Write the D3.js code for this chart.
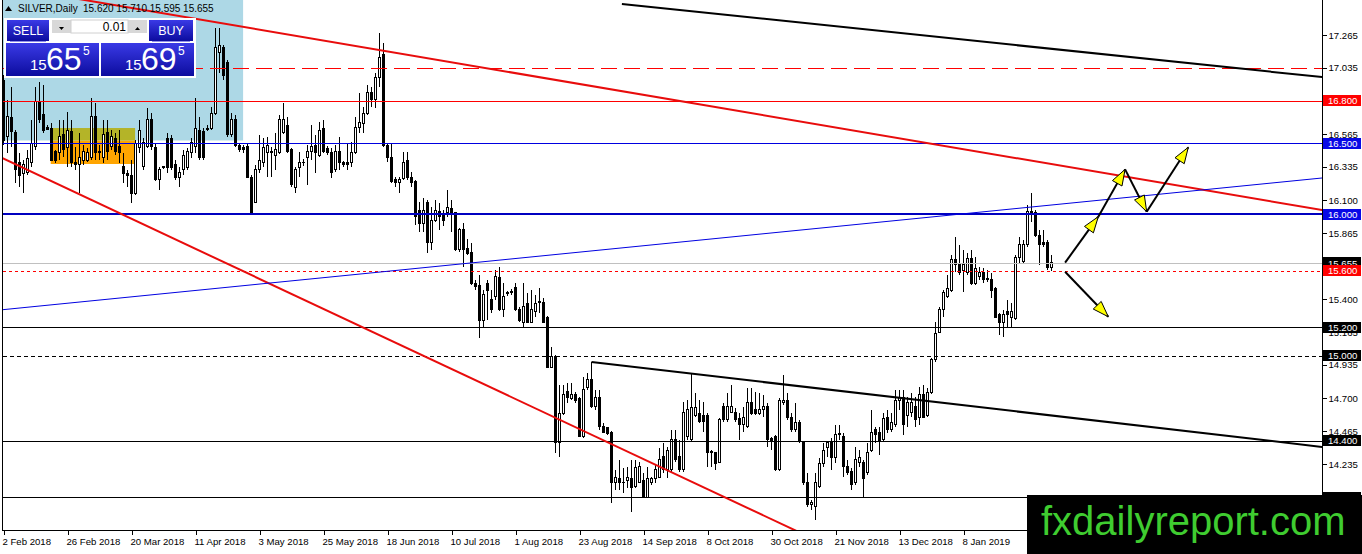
<!DOCTYPE html>
<html>
<head>
<meta charset="utf-8">
<script src="https://cdn.jsdelivr.net/npm/d3@7"></script>
<style>
body { margin: 0; background: #fff; overflow: hidden; }
svg { display: block; font-family: "Liberation Sans", Arial, sans-serif; }
</style>
</head>
<body>
<svg id="chart" width="1362" height="554"></svg>
<script>
// SILVER daily candles, [open, high, low, close], 2 Feb 2018 .. 8 Feb 2019
const ohlc = [
  [16.947,16.982,16.488,16.523],[16.545,16.806,16.432,16.686],[16.679,16.898,16.474,16.580],[16.573,16.594,16.220,16.312],
  [16.361,16.432,16.191,16.276],[16.290,16.382,16.149,16.347],[16.297,16.453,16.276,16.396],[16.361,16.665,16.333,16.502],
  [16.474,16.898,16.453,16.792],[16.792,16.933,16.643,16.665],[16.700,16.912,16.573,16.594],[16.615,16.629,16.594,16.601],
  [16.608,16.643,16.375,16.382],[16.439,16.453,16.361,16.382],[16.432,16.665,16.382,16.545],[16.559,16.665,16.403,16.453],
  [16.467,16.721,16.333,16.594],[16.580,16.665,16.333,16.361],[16.361,16.474,16.312,16.347],[16.347,16.573,16.149,16.403],
  [16.382,16.488,16.347,16.439],[16.382,16.467,16.368,16.432],[16.403,16.820,16.382,16.686],[16.686,16.785,16.382,16.432],
  [16.439,16.488,16.382,16.432],[16.403,16.665,16.361,16.559],[16.573,16.665,16.382,16.439],[16.474,16.594,16.453,16.545],
  [16.537,16.573,16.417,16.439],[16.474,16.594,16.361,16.432],[16.333,16.432,16.220,16.290],[16.290,16.312,16.191,16.276],
  [16.276,16.382,16.078,16.149],[16.149,16.523,16.135,16.502],[16.467,16.665,16.432,16.594],[16.333,16.537,16.312,16.509],
  [16.474,16.749,16.467,16.665],[16.665,16.714,16.453,16.474],[16.467,16.502,16.235,16.241],[16.241,16.333,16.170,16.312],
  [16.326,16.340,16.320,16.333],[16.537,16.573,16.290,16.326],[16.537,16.559,16.312,16.326],[16.347,16.382,16.241,16.262],
  [16.262,16.333,16.191,16.297],[16.312,16.453,16.276,16.417],[16.326,16.467,16.312,16.439],[16.432,16.537,16.396,16.509],
  [16.474,16.820,16.432,16.608],[16.594,16.686,16.382,16.403],[16.580,16.608,16.382,16.403],[16.601,16.629,16.587,16.608],
  [16.608,16.756,16.594,16.714],[16.714,17.314,16.700,17.180],[17.138,17.314,16.997,17.194],[17.180,17.194,16.947,16.982],
  [17.074,17.088,16.545,16.559],[16.559,16.714,16.545,16.665],[16.665,16.700,16.474,16.488],[16.488,16.502,16.439,16.453],
  [16.467,16.488,16.432,16.453],[16.474,16.502,16.255,16.262],[16.262,16.276,16.005,16.008],[16.085,16.347,16.078,16.312],
  [16.312,16.559,16.290,16.382],[16.368,16.537,16.333,16.467],[16.432,16.545,16.262,16.488],[16.439,16.474,16.262,16.432],
  [16.417,16.573,16.312,16.453],[16.432,16.700,16.425,16.665],[16.573,16.785,16.566,16.665],[16.629,16.686,16.432,16.439],
  [16.453,16.467,16.191,16.206],[16.191,16.333,16.149,16.312],[16.326,16.439,16.262,16.368],[16.361,16.390,16.340,16.368],
  [16.403,16.488,16.206,16.439],[16.439,16.629,16.382,16.474],[16.488,16.559,16.290,16.432],[16.417,16.650,16.403,16.594],
  [16.608,16.665,16.432,16.439],[16.460,16.480,16.420,16.432],[16.432,16.467,16.255,16.297],[16.312,16.488,16.297,16.439],
  [16.439,16.545,16.312,16.361],[16.361,16.375,16.333,16.347],[16.361,16.502,16.312,16.347],[16.361,16.509,16.333,16.432],
  [16.432,16.686,16.425,16.615],[16.615,16.855,16.573,16.650],[16.643,16.756,16.573,16.714],[16.714,16.912,16.700,16.862],
  [16.862,16.898,16.756,16.806],[16.806,16.997,16.749,16.968],[16.968,17.279,16.898,17.109],[17.124,17.208,16.474,16.488],
  [16.488,16.502,16.368,16.403],[16.403,16.502,16.220,16.227],[16.241,16.262,16.191,16.220],[16.220,16.262,16.149,16.241],
  [16.255,16.439,16.241,16.368],[16.382,16.439,16.241,16.262],[16.262,16.297,16.191,16.220],[16.227,16.240,15.923,15.980],
  [16.029,16.085,15.874,15.937],[15.937,16.114,15.874,16.029],[16.085,16.100,15.725,15.796],[15.796,16.050,15.747,15.958],
  [15.958,16.100,15.944,16.029],[16.015,16.078,15.888,15.980],[15.994,16.029,15.916,15.958],[16.008,16.170,15.980,16.050],
  [16.043,16.100,15.874,15.994],[16.008,16.015,15.740,15.747],[15.747,15.902,15.732,15.888],[15.888,15.937,15.626,15.747],
  [15.754,15.824,15.711,15.725],[15.732,15.796,15.499,15.513],[15.513,15.535,15.464,15.492],[15.499,15.570,15.125,15.252],
  [15.252,15.464,15.203,15.429],[15.513,15.535,15.252,15.464],[15.394,15.464,15.302,15.323],[15.415,15.605,15.394,15.556],
  [15.549,15.626,15.316,15.323],[15.323,15.513,15.273,15.415],[15.436,15.460,15.420,15.443],[15.443,15.470,15.430,15.450],
  [15.485,15.513,15.316,15.323],[15.323,15.344,15.238,15.252],[15.238,15.513,15.196,15.344],[15.372,15.443,15.231,15.238],
  [15.238,15.464,15.231,15.323],[15.309,15.429,15.273,15.372],[15.379,15.478,15.302,15.386],[15.379,15.408,15.231,15.238],
  [15.273,15.280,14.913,14.920],[14.920,15.062,14.913,14.991],[14.991,15.005,14.313,14.384],[14.384,14.793,14.285,14.595],
  [14.595,14.793,14.581,14.723],[14.744,14.808,14.666,14.708],[14.701,14.808,14.687,14.723],[14.723,14.744,14.666,14.687],
  [14.701,14.708,14.426,14.426],[14.426,14.850,14.419,14.758],[14.772,14.878,14.758,14.829],[14.829,14.955,14.631,14.638],
  [14.638,14.758,14.617,14.708],[14.708,14.758,14.476,14.497],[14.497,14.525,14.454,14.461],[14.490,14.497,14.440,14.454],
  [14.461,14.470,13.960,14.101],[14.101,14.193,14.052,14.143],[14.136,14.264,14.052,14.101],[14.108,14.207,14.030,14.101],
  [14.122,14.214,14.066,14.143],[14.136,14.264,13.896,14.066],[14.073,14.264,14.066,14.207],[14.108,14.249,14.101,14.221],
  [14.122,14.172,13.995,14.002],[14.002,14.214,13.995,14.136],[14.101,14.143,14.087,14.136],[14.136,14.228,14.101,14.193],
  [14.143,14.348,14.136,14.264],[14.285,14.384,14.172,14.193],[14.193,14.355,14.136,14.334],[14.193,14.476,14.179,14.405],
  [14.405,14.476,14.249,14.264],[14.285,14.405,14.179,14.193],[14.193,14.673,14.179,14.602],[14.426,14.687,14.405,14.617],
  [14.405,14.878,14.398,14.631],[14.581,14.737,14.567,14.631],[14.595,14.687,14.525,14.532],[14.581,14.673,14.461,14.532],
  [14.581,14.595,14.214,14.313],[14.320,14.334,14.214,14.313],[14.313,14.320,14.193,14.242],[14.249,14.560,14.242,14.546],
  [14.638,14.666,14.532,14.546],[14.546,14.737,14.532,14.638],[14.602,14.793,14.595,14.638],[14.602,14.631,14.532,14.546],
  [14.553,14.595,14.405,14.511],[14.511,14.638,14.461,14.567],[14.497,14.772,14.490,14.673],[14.673,14.772,14.581,14.595],
  [14.617,14.744,14.581,14.595],[14.595,14.737,14.581,14.617],[14.617,14.723,14.567,14.638],[14.638,14.666,14.355,14.405],
  [14.412,14.426,14.334,14.391],[14.426,14.440,14.186,14.193],[14.193,14.701,14.186,14.687],[14.673,14.864,14.652,14.687],
  [14.687,14.737,14.546,14.567],[14.567,14.595,14.462,14.476],[14.476,14.666,14.462,14.525],[14.525,14.546,14.384,14.391],
  [14.391,14.398,14.087,14.101],[14.101,14.172,13.932,13.946],[13.946,13.981,13.910,13.960],[13.932,14.172,13.840,14.101],
  [14.073,14.278,14.066,14.242],[14.242,14.384,14.214,14.334],[14.355,14.391,14.285,14.384],[14.384,14.419,14.193,14.278],
  [14.278,14.511,14.242,14.440],[14.440,14.511,14.405,14.454],[14.426,14.454,14.143,14.214],[14.214,14.264,14.157,14.172],
  [14.179,14.207,14.052,14.087],[14.101,14.355,14.087,14.264],[14.249,14.334,14.214,14.278],[14.249,14.264,14.002,14.136],
  [14.172,14.384,14.157,14.313],[14.334,14.617,14.320,14.461],[14.476,14.497,14.384,14.440],[14.461,14.497,14.299,14.391],
  [14.405,14.595,14.391,14.560],[14.567,14.617,14.454,14.476],[14.476,14.595,14.461,14.525],[14.511,14.758,14.497,14.687],
  [14.687,14.758,14.617,14.708],[14.708,14.758,14.440,14.511],[14.581,14.708,14.497,14.666],[14.602,14.737,14.567,14.673],
  [14.638,14.708,14.497,14.546],[14.567,14.779,14.511,14.723],[14.723,14.793,14.560,14.567],[14.581,14.772,14.567,14.737],
  [14.737,14.984,14.730,14.970],[14.970,15.238,14.955,15.160],[15.167,15.344,15.160,15.323],[15.323,15.464,15.273,15.443],
  [15.415,15.570,15.408,15.478],[15.464,15.711,15.450,15.676],[15.676,15.838,15.591,15.641],[15.641,15.782,15.570,15.591],
  [15.605,15.747,15.450,15.641],[15.591,15.725,15.570,15.683],[15.690,15.747,15.499,15.513],[15.513,15.697,15.499,15.619],
  [15.556,15.626,15.535,15.591],[15.591,15.619,15.513,15.535],[15.542,15.605,15.520,15.535],[15.535,15.584,15.408,15.464],
  [15.478,15.485,15.266,15.273],[15.288,15.302,15.146,15.231],[15.231,15.323,15.132,15.288],[15.309,15.394,15.196,15.288],
  [15.273,15.372,15.203,15.309],[15.266,15.711,15.252,15.697],[15.697,15.838,15.655,15.782],[15.662,15.817,15.655,15.782],
  [15.782,16.064,15.768,16.015],[16.008,16.149,15.944,16.015],[16.008,16.029,15.838,15.852],[15.852,15.888,15.641,15.782],
  [15.803,15.888,15.768,15.782],[15.796,15.817,15.605,15.620],[15.620,15.710,15.595,15.655]
];

const dateTickBars = [0, 16, 32, 48, 64, 80, 96, 112, 128, 144, 160, 176, 192, 208, 224, 240];
const dateTickLabels = ['2 Feb 2018', '26 Feb 2018', '20 Mar 2018', '11 Apr 2018', '3 May 2018', '25 May 2018',
  '18 Jun 2018', '10 Jul 2018', '1 Aug 2018', '23 Aug 2018', '14 Sep 2018', '8 Oct 2018', '30 Oct 2018',
  '21 Nov 2018', '13 Dec 2018', '8 Jan 2019'];
// price grid ticks; the ones hidden behind level tags in the picture are left out
const priceTicks = [17.265, 17.035, 16.565, 16.335, 16.100, 15.865, 15.400, 15.165,
  14.935, 14.700, 14.465, 14.235];

// horizontal levels and their look
const levels = [17.035, 16.800, 16.500, 16.000, 15.655, 15.600, 15.200, 15.000, 14.400, 14.000];
const levelStyles = [
  { color: '#ff0000', width: 1, dash: '16,7', tag: null },
  { color: '#ff0000', width: 1, dash: null, tag: '#ff0000' },
  { color: '#0000e0', width: 1, dash: null, tag: '#0808e6' },
  { color: '#0000c0', width: 2, dash: null, tag: '#0808e6' },
  { color: '#c0c0c0', width: 1, dash: null, tag: '#000000' },
  { color: '#ff0000', width: 1, dash: '3,3', tag: '#ff0000' },
  { color: '#000000', width: 1, dash: null, tag: '#000000' },
  { color: '#000000', width: 1, dash: '4,3', tag: '#000000' },
  { color: '#000000', width: 1, dash: null, tag: '#000000' },
  { color: '#000000', width: 1, dash: null, tag: '#000000' }
];

// trend lines: two anchors each, [bar, price]
const trendAnchors = [
  [[61.6, 17.314], [329.6, 16.029]],
  [[-0.875, 16.403], [192.4, 13.840]],
  [[-0.875, 15.323], [329.6, 16.255]],
  [[154.6, 17.484], [329.6, 16.968]],
  [[147, 14.955], [329.6, 14.356]]
];
const trendStyles = [
  { color: '#e80c0c', width: 2, ray: false },
  { color: '#e80c0c', width: 2, ray: false },
  { color: '#0000e0', width: 1, ray: false },
  { color: '#000000', width: 2, ray: true },
  { color: '#000000', width: 2, ray: true }
];

// projected paths drawn as arrows
const arrowUpPath = [[265.4, 15.657], [273.7, 15.982], [280.4, 16.316], [285.8, 16.017], [296.2, 16.472]];
const arrowDownPath = [[265.4, 15.593], [276.2, 15.275]];

// shaded zones: [fromBar, toBar], [lowPrice, highPrice]
const zoneBars = [[-3, 59.9], [11.8, 32.9], [11.8, 32.9]];
const zonePrices = [[16.52, 17.7], [16.354, 16.52], [16.52, 16.608]];
const zoneColors = ['#add8e6', '#ffa500', '#b4b428'];

const W = 1362, H = 554;
const plot = { left: 3, right: 1322, top: 0, bottom: 530 };

const svg = d3.select('#chart');
svg.append('rect').attr('width', W).attr('height', H).attr('fill', '#fff');

const defs = svg.append('defs');
defs.append('clipPath').attr('id', 'plotClip')
  .append('rect')
  .attr('x', plot.left).attr('y', plot.top)
  .attr('width', plot.right - plot.left).attr('height', plot.bottom - plot.top);
const grad = defs.append('linearGradient').attr('id', 'btnBlue')
  .attr('x1', 0).attr('y1', 0).attr('x2', 0).attr('y2', 1);
grad.append('stop').attr('offset', '0%').attr('stop-color', '#3a3ae6');
grad.append('stop').attr('offset', '100%').attr('stop-color', '#0c0c9e');

const x = d3.scaleLinear().domain([0, 262]).range([3.5, 1051.5]);
const y = d3.scaleLinear().domain([14.0, 17.265]).range([497.3, 35]);
const crisp = v => Math.round(v) + 0.5;

const chart = svg.append('g').attr('clip-path', 'url(#plotClip)');

// background zones
chart.append('g').selectAll('rect')
  .data(zoneBars)
  .join('rect')
  .attr('x', d => x(d[0]))
  .attr('width', d => x(d[1]) - x(d[0]))
  .attr('y', (d, i) => y(zonePrices[i][1]))
  .attr('height', (d, i) => y(zonePrices[i][0]) - y(zonePrices[i][1]))
  .attr('fill', (d, i) => zoneColors[i]);

// candles
const candles = chart.append('g').attr('shape-rendering', 'crispEdges');
candles.selectAll('line')
  .data(ohlc)
  .join('line')
  .attr('x1', (d, i) => x(i)).attr('x2', (d, i) => x(i))
  .attr('y1', d => y(d[1])).attr('y2', d => y(d[2]))
  .attr('stroke', '#000').attr('stroke-width', 1);
candles.selectAll('rect')
  .data(ohlc)
  .join('rect')
  .attr('x', (d, i) => x(i) - 1)
  .attr('width', 2)
  .attr('y', d => y(Math.max(d[0], d[3])))
  .attr('height', d => Math.max(0.5, Math.abs(y(d[0]) - y(d[3]))))
  .attr('fill', d => d[3] >= d[0] ? '#fff' : '#000')
  .attr('stroke', '#000').attr('stroke-width', 1);

// horizontal levels
const levelY = (d, i) => levelStyles[i].width === 2 ? Math.round(y(d)) : crisp(y(d));
chart.append('g')
  .selectAll('line')
  .data(levels)
  .join('line')
  .attr('shape-rendering', 'crispEdges')
  .attr('x1', plot.left).attr('x2', plot.right)
  .attr('y1', levelY)
  .attr('y2', levelY)
  .style('stroke', (d, i) => levelStyles[i].color)
  .style('stroke-width', (d, i) => levelStyles[i].width)
  .style('stroke-dasharray', (d, i) => levelStyles[i].dash || 'none');

// trend lines
function extend(a, b, b0, b1) {
  const s = (b[1] - a[1]) / (b[0] - a[0]);
  return [[b0, a[1] + s * (b0 - a[0])], [b1, a[1] + s * (b1 - a[0])]];
}
const line = d3.line().x(d => x(d[0])).y(d => y(d[1]));
chart.append('g').selectAll('path')
  .data(trendAnchors)
  .join('path')
  .attr('d', (d, i) => line(extend(d[0], d[1], trendStyles[i].ray ? d[0][0] : -5, 340)))
  .attr('fill', 'none')
  .attr('stroke', (d, i) => trendStyles[i].color)
  .attr('stroke-width', (d, i) => trendStyles[i].width);

// arrows
function drawArrows(pts) {
  const g = chart.append('g');
  for (let k = 1; k < pts.length; k++) {
    const x0 = x(pts[k - 1][0]), y0 = y(pts[k - 1][1]);
    const x1 = x(pts[k][0]), y1 = y(pts[k][1]);
    g.append('line')
      .attr('x1', x0).attr('y1', y0).attr('x2', x1).attr('y2', y1)
      .attr('stroke', '#000').attr('stroke-width', 2);
    const ang = Math.atan2(y1 - y0, x1 - x0);
    const len = 16, half = 5.5;
    const bx = x1 - len * Math.cos(ang), by = y1 - len * Math.sin(ang);
    const px = -Math.sin(ang) * half, py = Math.cos(ang) * half;
    g.append('path')
      .attr('d', `M${x1},${y1}L${bx + px},${by + py}L${bx - px},${by - py}Z`)
      .attr('fill', '#ffff00')
      .attr('stroke', '#000').attr('stroke-width', 1);
  }
}
drawArrows(arrowUpPath);
drawArrows(arrowDownPath);

// frame
const frame = svg.append('g').attr('shape-rendering', 'crispEdges').attr('stroke', '#000');
frame.append('line').attr('x1', 2.5).attr('x2', 2.5).attr('y1', 0).attr('y2', plot.bottom + 0.5);
frame.append('line').attr('x1', 2).attr('x2', plot.right + 1).attr('y1', plot.bottom + 0.5).attr('y2', plot.bottom + 0.5);
frame.append('line').attr('x1', plot.right + 0.5).attr('x2', plot.right + 0.5).attr('y1', 0).attr('y2', plot.bottom + 1);

// price axis
const yAxis = svg.append('g')
  .attr('transform', `translate(${plot.right + 0.5},0)`)
  .call(d3.axisRight(y).tickValues(priceTicks).tickSize(4).tickPadding(2).tickFormat(d3.format('.3f')));
yAxis.select('.domain').remove();
yAxis.selectAll('text').attr('font-family', '"Liberation Sans", Arial, sans-serif')
  .attr('font-size', 9.6).attr('fill', '#000');
yAxis.selectAll('line').attr('shape-rendering', 'crispEdges');

// level tags on the price axis
const tags = svg.append('g');
levels.forEach((p, i) => {
  const st = levelStyles[i];
  if (!st.tag) return;
  const cy = y(p);
  tags.append('rect')
    .attr('x', plot.right + 1).attr('y', Math.round(cy - 5.5))
    .attr('width', 38).attr('height', 11)
    .attr('fill', st.tag);
  tags.append('text')
    .attr('x', plot.right + 6).attr('y', cy + 3.6)
    .attr('font-size', 9.6).attr('fill', '#fff')
    .text(d3.format('.3f')(p));
});

// time axis
const xAxis = svg.append('g')
  .attr('transform', `translate(0,${plot.bottom + 0.5})`)
  .call(d3.axisBottom(x).tickValues(dateTickBars).tickSize(4).tickPadding(4)
    .tickFormat((d, i) => dateTickLabels[i]));
xAxis.select('.domain').remove();
xAxis.selectAll('text').attr('text-anchor', 'start').attr('dx', -1.5)
  .attr('font-family', '"Liberation Sans", Arial, sans-serif')
  .attr('font-size', 9.6).attr('fill', '#000');
xAxis.selectAll('line').attr('shape-rendering', 'crispEdges');

// header
const head = svg.append('g').attr('font-size', 10).attr('fill', '#000');
head.append('path').attr('d', 'M5,11L8.5,6L12,11Z').attr('fill', '#000');
head.append('text').attr('x', 18).attr('y', 12).text('SILVER,Daily');
head.append('text').attr('x', 83).attr('y', 12).text('15.620 15.710 15.595 15.655');

// one-click trading panel
const panel = svg.append('g');
panel.append('rect').attr('x', 4).attr('y', 18).attr('width', 192).attr('height', 60).attr('fill', '#fff');
panel.append('rect').attr('x', 7).attr('y', 20).attr('width', 42).attr('height', 21).attr('fill', 'url(#btnBlue)');
panel.append('rect').attr('x', 149).attr('y', 20).attr('width', 44).attr('height', 21).attr('fill', 'url(#btnBlue)');
panel.append('rect').attr('x', 6).attr('y', 43).attr('width', 93).attr('height', 33).attr('fill', 'url(#btnBlue)');
panel.append('rect').attr('x', 101).attr('y', 43).attr('width', 93).attr('height', 33).attr('fill', 'url(#btnBlue)');
panel.append('line').attr('x1', 10).attr('x2', 46).attr('y1', 41.5).attr('y2', 41.5).attr('stroke', '#8f8fe8');
panel.append('line').attr('x1', 152).attr('x2', 190).attr('y1', 41.5).attr('y2', 41.5).attr('stroke', '#8f8fe8');
panel.append('rect').attr('x', 52).attr('y', 20).attr('width', 19).attr('height', 13).attr('fill', '#d8d8d8');
panel.append('rect').attr('x', 128).attr('y', 20).attr('width', 19).attr('height', 13).attr('fill', '#d8d8d8');
panel.append('rect').attr('x', 71).attr('y', 20).attr('width', 57).attr('height', 13).attr('fill', '#fff')
  .attr('stroke', '#d0d0d0');
panel.append('path').attr('d', 'M59,27L64,27L61.5,30Z').attr('fill', '#000');
panel.append('path').attr('d', 'M135,30L140,30L137.5,27Z').attr('fill', '#000');
panel.append('text').attr('x', 126).attr('y', 31).attr('text-anchor', 'end')
  .attr('font-size', 12).attr('fill', '#000').text('0.01');
panel.append('text').attr('x', 28).attr('y', 35).attr('text-anchor', 'middle')
  .attr('font-size', 12.5).attr('fill', '#fff').text('SELL');
panel.append('text').attr('x', 171).attr('y', 35).attr('text-anchor', 'middle')
  .attr('font-size', 12.5).attr('fill', '#fff').text('BUY');
[[30, 46, 83, '65'], [125, 141, 178, '69']].forEach(([sx, bx, px, big]) => {
  panel.append('text').attr('x', sx).attr('y', 70).attr('font-size', 15).attr('fill', '#fff').text('15');
  panel.append('text').attr('x', bx).attr('y', 70).attr('font-size', 32).attr('fill', '#fff').text(big);
  panel.append('text').attr('x', px).attr('y', 55).attr('font-size', 12).attr('fill', '#fff').text('5');
});

// site mark
svg.append('rect').attr('x', 1027).attr('y', 495).attr('width', W - 1027).attr('height', H - 495).attr('fill', '#000');
svg.append('text').attr('x', 1041).attr('y', 535)
  .attr('font-family', '"Liberation Sans", Arial, sans-serif')
  .attr('font-size', 40).attr('fill', '#3fcc30')
  .text('fxdailyreport.com');
</script>
</body>
</html>
